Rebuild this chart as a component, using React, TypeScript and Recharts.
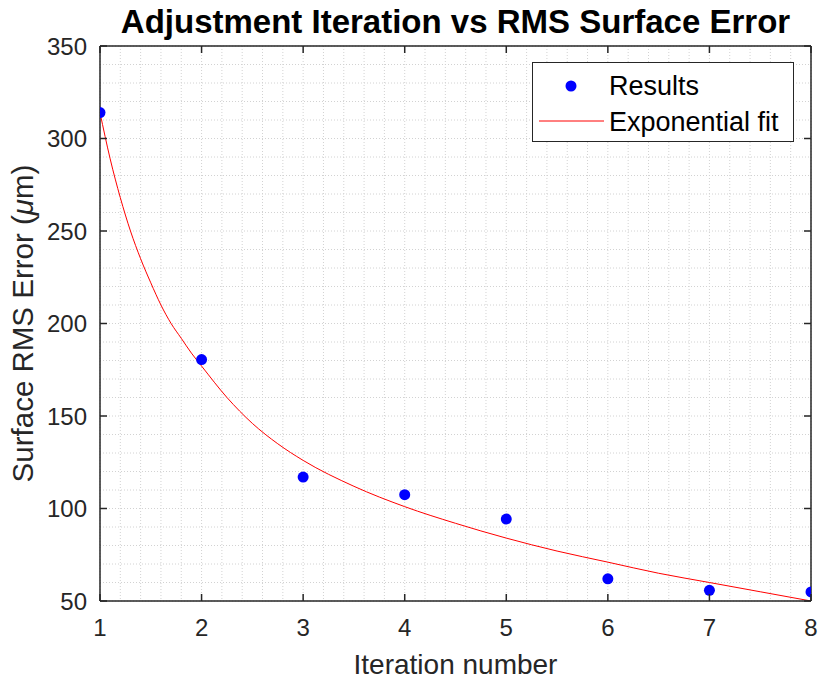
import { ComposedChart, Line, Scatter, XAxis, YAxis, CartesianGrid, Legend } from 'recharts';

// measured results per adjustment iteration
const iterations = [1, 2, 3, 4, 5, 6, 7, 8];
const rmsError = [314, 180.5, 117, 107.5, 94.3, 62, 55.8, 54.9];

// exponential fit curve
const fitX = [1, 1.1, 1.2, 1.3, 1.4, 1.5, 1.6, 1.7, 1.8, 1.9, 2, 2.25, 2.5, 2.75, 3, 3.5, 4, 4.5, 5, 5.5, 6, 6.5, 7, 7.5, 8];
const fitY = [314, 289, 268, 250, 235, 222, 210, 200, 192, 184, 177, 160, 146, 135, 126, 112, 101, 92, 84, 77, 71, 65, 60, 55, 50];

const xTicks = [1, 2, 3, 4, 5, 6, 7, 8];
const yTicks = [50, 100, 150, 200, 250, 300, 350];

const TITLE = 'Adjustment Iteration vs RMS Surface Error';
const X_LABEL = 'Iteration number';

// minor grid positions (every 0.2 on x, every 10 on y)
const xMinor = Array.from({ length: 36 }, (_, k) => (5 + k) / 5);
const yMinor = Array.from({ length: 31 }, (_, k) => 50 + k * 10);

const results = iterations.map((x, i) => ({ x, y: rmsError[i] }));
const fit = fitX.map((x, i) => ({ x, y: fitY[i] }));

const FONT = '"Liberation Sans", Arial, Helvetica, sans-serif';
const AXIS = '#262626';
const TICK_LEN = 7;

const isMajorX = (v: number) => xTicks.includes(Math.round(v * 1000) / 1000);
const isMajorY = (v: number) => yTicks.includes(v);

const BottomTick = ({ x, y, payload }: any) => {
  if (!isMajorX(payload.value)) return null;
  return (
    <g>
      <line x1={x} x2={x} y1={y} y2={y - TICK_LEN} stroke={AXIS} strokeWidth={1.5} />
      <text x={x} y={y + 35} textAnchor="middle" fontSize={24} fontFamily={FONT} fill={AXIS}>
        {Math.round(payload.value)}
      </text>
    </g>
  );
};

const TopTick = ({ x, y, payload }: any) => {
  if (!isMajorX(payload.value)) return null;
  return <line x1={x} x2={x} y1={y} y2={y + TICK_LEN} stroke={AXIS} strokeWidth={1.5} />;
};

const LeftTick = ({ x, y, payload }: any) => {
  if (!isMajorY(payload.value)) return null;
  return (
    <g>
      <line x1={x} x2={x + TICK_LEN} y1={y} y2={y} stroke={AXIS} strokeWidth={1.5} />
      <text x={x - 13} y={y} dy="0.36em" textAnchor="end" fontSize={24} fontFamily={FONT} fill={AXIS}>
        {payload.value}
      </text>
    </g>
  );
};

const RightTick = ({ x, y, payload }: any) => {
  if (!isMajorY(payload.value)) return null;
  return <line x1={x} x2={x - TICK_LEN} y1={y} y2={y} stroke={AXIS} strokeWidth={1.5} />;
};

const LegendBox = () => (
  <div
    style={{
      width: 262,
      height: 80,
      border: '1px solid #262626',
      background: '#fff',
      boxSizing: 'border-box',
    }}
  >
    <svg width={260} height={78} style={{ display: 'block' }}>
      <circle cx={38} cy={23} r={5.5} fill="#0000ff" />
      <text x={76} y={32} fontSize={27} fontFamily={FONT} fill="#000">Results</text>
      <line x1={6} x2={71} y1={58} y2={58} stroke="#ff0000" strokeWidth={1} />
      <text x={76} y={68} fontSize={27} fontFamily={FONT} fill="#000">Exponential fit</text>
    </svg>
  </div>
);

export default function App() {
  return (
    <div style={{ position: 'absolute', left: 0, top: 0, background: '#fff' }}>
      <ComposedChart width={820} height={679} margin={{ top: 45, right: 8, left: 0, bottom: 0 }}>
        <CartesianGrid xAxisId="main" yAxisId="main" stroke="#d2d2d2" strokeDasharray="1 2" />
        <XAxis
          xAxisId="main"
          dataKey="x"
          type="number"
          domain={[1, 8]}
          ticks={xMinor}
          interval={0}
          allowDataOverflow
          height={78}
          tickSize={0}
          tickMargin={0}
          tickLine={false}
          axisLine={{ stroke: AXIS, strokeWidth: 1.5 }}
          tick={<BottomTick />}
          label={{
            content: (p: any) => (
              <text
                x={p.viewBox.x + p.viewBox.width / 2}
                y={p.viewBox.y + 73}
                textAnchor="middle"
                fontSize={28}
                fontFamily={FONT}
                fill={AXIS}
              >
                {X_LABEL}
              </text>
            ),
          }}
        />
        <XAxis
          xAxisId="top"
          orientation="top"
          dataKey="x"
          type="number"
          domain={[1, 8]}
          ticks={xMinor}
          interval={0}
          allowDataOverflow
          height={1}
          tickSize={0}
          tickMargin={0}
          tickLine={false}
          axisLine={{ stroke: AXIS, strokeWidth: 1.5 }}
          tick={<TopTick />}
          label={{
            content: (p: any) => (
              <text
                x={p.viewBox.x + p.viewBox.width / 2}
                y={33}
                textAnchor="middle"
                fontSize={33}
                fontWeight="bold"
                fontFamily={FONT}
                fill="#000"
              >
                {TITLE}
              </text>
            ),
          }}
        />
        <YAxis
          yAxisId="main"
          type="number"
          domain={[50, 350]}
          ticks={yMinor}
          interval={0}
          allowDataOverflow
          width={100}
          tickSize={0}
          tickMargin={0}
          tickLine={false}
          axisLine={{ stroke: AXIS, strokeWidth: 1.5 }}
          tick={<LeftTick />}
          label={{
            content: (p: any) => {
              const cy = p.viewBox.y + p.viewBox.height / 2;
              return (
                <text
                  x={33}
                  y={cy}
                  transform={`rotate(-90, 33, ${cy})`}
                  textAnchor="middle"
                  fontSize={29.5}
                  fontFamily={FONT}
                  fill={AXIS}
                >
                  Surface RMS Error (<tspan fontStyle="italic">μ</tspan>m)
                </text>
              );
            },
          }}
        />
        <YAxis
          yAxisId="right"
          orientation="right"
          type="number"
          domain={[50, 350]}
          ticks={yMinor}
          interval={0}
          allowDataOverflow
          width={1}
          tickSize={0}
          tickMargin={0}
          tickLine={false}
          axisLine={{ stroke: AXIS, strokeWidth: 1.5 }}
          tick={<RightTick />}
        />
        <Line
          xAxisId="main"
          yAxisId="main"
          data={fit}
          dataKey="y"
          type="monotone"
          stroke="#ff0000"
          strokeWidth={1}
          dot={false}
          isAnimationActive={false}
          name="Exponential fit"
        />
        <Scatter
          xAxisId="main"
          yAxisId="main"
          data={results}
          dataKey="y"
          fill="#0000ff"
          shape={(p: any) => <circle cx={p.cx} cy={p.cy} r={5.5} fill="#0000ff" />}
          isAnimationActive={false}
          name="Results"
        />
        <Legend
          layout="vertical"
          align="center"
          verticalAlign="middle"
          wrapperStyle={{ position: 'absolute', left: 532, top: 62, width: 262, height: 80 }}
          content={() => <LegendBox />}
        />
      </ComposedChart>
    </div>
  );
}
